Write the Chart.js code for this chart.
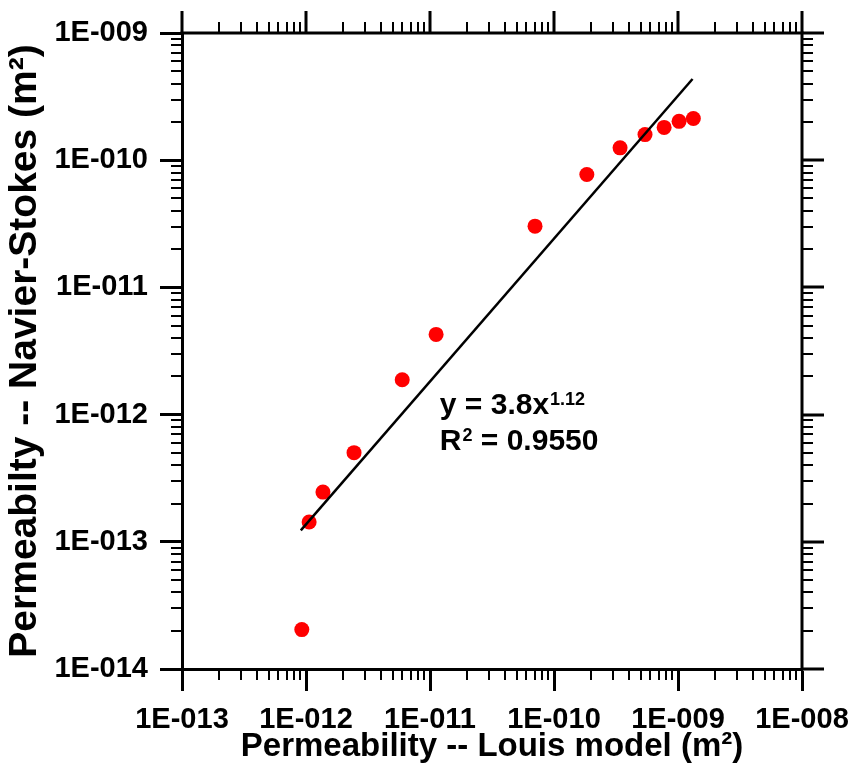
<!DOCTYPE html>
<html>
<head>
<meta charset="utf-8">
<script src="https://cdn.jsdelivr.net/npm/chart.js@4.4.1/dist/chart.umd.min.js"></script>
<style>
  html, body { margin: 0; padding: 0; background: #fff; }
</style>
</head>
<body>
<canvas id="chart" width="855" height="778"></canvas>
<script>
// measured points (Louis model vs Navier-Stokes permeability, m2)
const louisK = [9.25e-13, 1.06e-12, 1.37e-12, 2.44e-12, 5.97e-12, 1.12e-11, 7.03e-11, 1.84e-10, 3.41e-10, 5.42e-10, 7.73e-10, 1.02e-9, 1.33e-9];
const navierK = [2.04e-14, 1.43e-13, 2.46e-13, 5.02e-13, 1.88e-12, 4.27e-12, 3.03e-11, 7.71e-11, 1.25e-10, 1.59e-10, 1.81e-10, 2.02e-10, 2.13e-10];

// power-law fit line end points
const fitX = [9.08e-13, 1.31e-9];
const fitY = [1.23e-13, 4.35e-10];

// axis decades and their labels
const xTicks = [1e-13, 1e-12, 1e-11, 1e-10, 1e-9, 1e-8];
const xTickLabels = ['1E-013', '1E-012', '1E-011', '1E-010', '1E-009', '1E-008'];
const yTicks = [1e-14, 1e-13, 1e-12, 1e-11, 1e-10, 1e-9];
const yTickLabels = ['1E-014', '1E-013', '1E-012', '1E-011', '1E-010', '1E-009'];
const minorSteps = [2, 3, 4, 5, 6, 7, 8, 9];

const xTitle = 'Permeability -- Louis model (m\u00B2)';
const yTitle = 'Permeabilty -- Navier-Stokes (m\u00B2)';

// fit equation text, anchored at a data position
const eqAnchor = { x: 1.2e-11, y: 1.02e-12 };
const eqLine1 = ['y = 3.8x', '1.12'];
const eqLine2 = ['R', '2', ' = 0.9550'];

const FONT = '"Liberation Sans", Arial, sans-serif';

const pickLabel = (ticks, labels) => (v) => {
  const i = ticks.findIndex(t => Math.abs(v / t - 1) < 1e-6);
  return i >= 0 ? labels[i] : null;
};

// minor ticks on bottom/left, plus the top and right frame with ticks
const frameTicks = {
  id: 'frameTicks',
  afterDraw(chart) {
    const { ctx, chartArea: a, scales: { x, y } } = chart;
    ctx.save();
    ctx.strokeStyle = '#000';
    ctx.lineWidth = 3;
    ctx.beginPath();
    ctx.moveTo(a.left - 1.5, a.top);
    ctx.lineTo(a.right, a.top);
    ctx.lineTo(a.right, a.bottom + 1.5);
    ctx.stroke();

    // major ticks on top and right
    ctx.beginPath();
    xTicks.forEach(v => {
      const px = Math.round(x.getPixelForValue(v));
      ctx.moveTo(px, a.top); ctx.lineTo(px, a.top - 22);
    });
    yTicks.forEach(v => {
      const py = Math.round(y.getPixelForValue(v));
      ctx.moveTo(a.right, py); ctx.lineTo(a.right + 22, py);
    });
    ctx.stroke();

    // minor ticks on all four sides
    ctx.lineWidth = 2;
    ctx.beginPath();
    xTicks.slice(0, -1).forEach(d => {
      minorSteps.forEach(m => {
        const px = Math.round(x.getPixelForValue(d * m));
        ctx.moveTo(px, a.bottom); ctx.lineTo(px, a.bottom + 11);
        ctx.moveTo(px, a.top); ctx.lineTo(px, a.top - 11);
      });
    });
    yTicks.slice(0, -1).forEach(d => {
      minorSteps.forEach(m => {
        const py = Math.round(y.getPixelForValue(d * m));
        ctx.moveTo(a.left, py); ctx.lineTo(a.left - 11, py);
        ctx.moveTo(a.right, py); ctx.lineTo(a.right + 11, py);
      });
    });
    ctx.stroke();

    // equation
    const px = x.getPixelForValue(eqAnchor.x);
    const py = y.getPixelForValue(eqAnchor.y);
    const big = 'bold 30px ' + FONT;
    const small = 'bold 18px ' + FONT;
    ctx.fillStyle = '#000';
    ctx.textBaseline = 'alphabetic';
    ctx.textAlign = 'left';
    ctx.font = big;
    ctx.fillText(eqLine1[0], px, py);
    let w = ctx.measureText(eqLine1[0]).width;
    ctx.font = small;
    ctx.fillText(eqLine1[1], px + w + 1, py - 9);

    const py2 = py + 36;
    ctx.font = big;
    ctx.fillText(eqLine2[0], px, py2);
    w = ctx.measureText(eqLine2[0]).width;
    ctx.font = small;
    ctx.fillText(eqLine2[1], px + w + 1, py2 - 9);
    const w2 = ctx.measureText(eqLine2[1]).width;
    ctx.font = big;
    ctx.fillText(eqLine2[2], px + w + 1 + w2, py2);
    ctx.restore();
  }
};

new Chart(document.getElementById('chart'), {
  type: 'scatter',
  data: {
    datasets: [
      {
        label: 'fit',
        data: fitX.map((v, i) => ({ x: v, y: fitY[i] })),
        showLine: true,
        borderColor: '#000',
        borderWidth: 2.5,
        pointRadius: 0,
        fill: false
      },
      {
        label: 'data',
        data: louisK.map((v, i) => ({ x: v, y: navierK[i] })),
        backgroundColor: '#ff0000',
        borderWidth: 0,
        pointRadius: 7.5
      }
    ]
  },
  options: {
    responsive: false,
    animation: false,
    devicePixelRatio: 1,
    layout: { padding: { top: 33, right: 53, left: 0, bottom: 0 } },
    plugins: { legend: { display: false }, tooltip: { enabled: false } },
    scales: {
      x: {
        type: 'logarithmic',
        position: 'bottom',
        min: 1e-13,
        max: 1e-8,
        afterBuildTicks: s => { s.ticks = xTicks.map(v => ({ value: v })); },
        afterFit: s => { s.height = 109; s.paddingLeft = 0; s.paddingRight = 0; },
        ticks: {
          callback: pickLabel(xTicks, xTickLabels),
          color: '#000',
          padding: 12,
          maxRotation: 0,
          autoSkip: false,
          font: { family: FONT, size: 29, weight: 'bold' }
        },
        grid: { drawOnChartArea: false, drawTicks: true, tickLength: 22, tickWidth: 3, tickColor: '#000' },
        border: { display: true, width: 3, color: '#000' },
        title: {
          display: true,
          text: xTitle,
          color: '#000',
          padding: { top: 0, bottom: 11 },
          font: { family: FONT, size: 33, weight: 'bold' }
        }
      },
      y: {
        type: 'logarithmic',
        position: 'left',
        min: 1e-14,
        max: 1e-9,
        afterBuildTicks: s => { s.ticks = yTicks.map(v => ({ value: v })); },
        afterFit: s => { s.width = 182; s.paddingTop = 0; s.paddingBottom = 0; },
        ticks: {
          callback: pickLabel(yTicks, yTickLabels),
          color: '#000',
          padding: 12,
          autoSkip: false,
          font: { family: FONT, size: 29, weight: 'bold' }
        },
        grid: { drawOnChartArea: false, drawTicks: true, tickLength: 22, tickWidth: 3, tickColor: '#000' },
        border: { display: true, width: 3, color: '#000' },
        title: {
          display: true,
          text: yTitle,
          color: '#000',
          padding: { top: 2, bottom: 0 },
          font: { family: FONT, size: 39, weight: 'bold' }
        }
      }
    }
  },
  plugins: [frameTicks]
});
</script>
</body>
</html>
